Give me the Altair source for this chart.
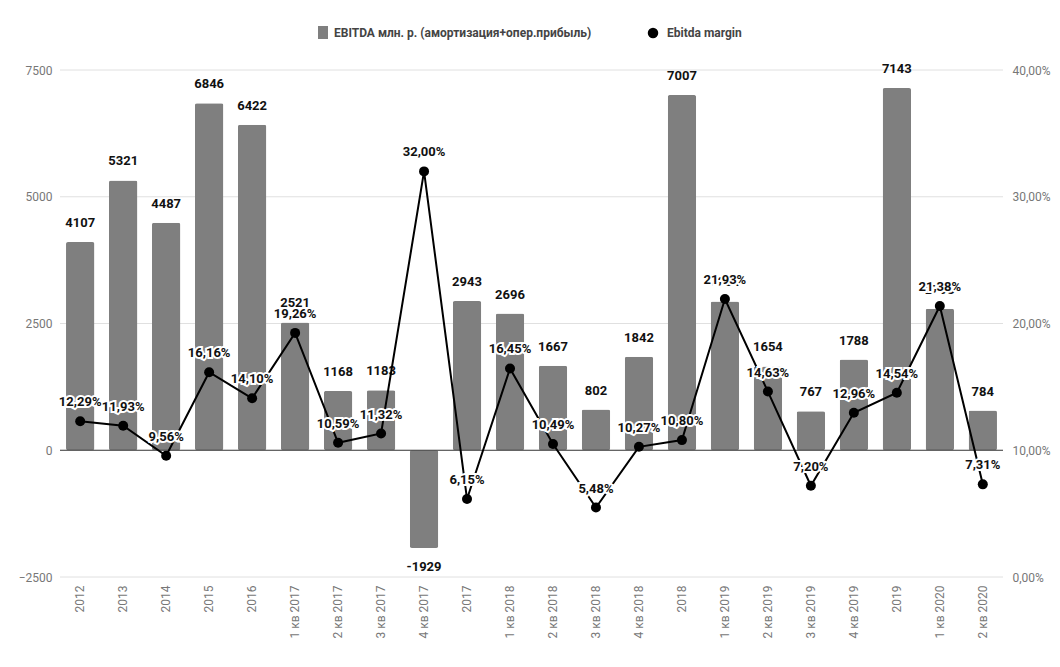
import altair as alt
import pandas as pd

categories = ["2012", "2013", "2014", "2015", "2016",
              "1 кв 2017", "2 кв 2017", "3 кв 2017", "4 кв 2017", "2017",
              "1 кв 2018", "2 кв 2018", "3 кв 2018", "4 кв 2018", "2018",
              "1 кв 2019", "2 кв 2019", "3 кв 2019", "4 кв 2019", "2019",
              "1 кв 2020", "2 кв 2020"]
ebitda = [4107, 5321, 4487, 6846, 6422,
          2521, 1168, 1183, -1929, 2943,
          2696, 1667, 802, 1842, 7007,
          2934, 1654, 767, 1788, 7143,
          2793, 784]
margin = [12.29, 11.93, 9.56, 16.16, 14.10,
          19.26, 10.59, 11.32, 32.00, 6.15,
          16.45, 10.49, 5.48, 10.27, 10.80,
          21.93, 14.63, 7.20, 12.96, 14.54,
          21.38, 7.31]
left_ticks = [-2500, 0, 2500, 5000, 7500]
right_ticks = [0, 10, 20, 30, 40]
legend_labels = ["EBITDA  млн. р. (амортизация+опер.прибыль)", "Ebitda margin"]

df = pd.DataFrame({"cat": categories, "ebitda": ebitda, "margin": margin})
df["elabel"] = [str(v) for v in ebitda]
df["mlabel"] = [f"{m:.2f}".replace(".", ",") + "%" for m in margin]
grid_df = pd.DataFrame({"g": [t for t in left_ticks if t != 0]})
zero_df = pd.DataFrame({"g": [0]})

FONT = "Roboto"
GRID = "#e0e0e0"
LABEL = "#777777"

x_enc = alt.X("cat:N", sort=categories, title=None,
              scale=alt.Scale(paddingInner=0.34, paddingOuter=0.14),
              axis=alt.Axis(labelAngle=-90, labelColor=LABEL, labelFontSize=12,
                            labelFont=FONT, labelPadding=8, domain=False, ticks=False,
                            grid=False))

left_scale = alt.Scale(domain=[-2500, 7500], nice=False, zero=False)
right_scale = alt.Scale(domain=[0, 40], nice=False, zero=False)

left_axis = alt.Axis(values=left_ticks, grid=False, format="d",
                     domain=False, ticks=False, labelColor=LABEL, labelFontSize=12,
                     labelFont=FONT, labelPadding=8, title=None)
right_axis = alt.Axis(values=right_ticks, grid=False, domain=False, ticks=False,
                      labelColor=LABEL, labelFontSize=12, labelFont=FONT, labelPadding=9,
                      title=None, orient="right",
                      labelExpr="replace(format(datum.value, '.2f'), '.', ',') + '%'")

yl = alt.Y("ebitda:Q", scale=left_scale, axis=left_axis)
yr = alt.Y("margin:Q", scale=right_scale, axis=right_axis)

base = alt.Chart(df)

gridlines = alt.Chart(grid_df).mark_rule(color=GRID, strokeWidth=1).encode(
    y=alt.Y("g:Q", scale=left_scale, axis=left_axis), x=alt.value(0), x2=alt.value(943))

bars = base.mark_bar(color="#7f7f7f", cornerRadius=2).encode(x=x_enc, y=yl)

zero_line = alt.Chart(zero_df).mark_rule(color="#333333", strokeWidth=1).encode(
    y=alt.Y("g:Q", scale=left_scale, axis=left_axis), x=alt.value(0), x2=alt.value(943))

pos_labels = base.transform_filter("datum.ebitda >= 0").mark_text(
    font=FONT, fontSize=13, fontWeight="bold", color="#111111", baseline="middle", dy=-19
).encode(x=x_enc, y=yl, text="elabel:N")

neg_labels = base.transform_filter("datum.ebitda < 0").mark_text(
    font=FONT, fontSize=13, fontWeight="bold", color="#111111", baseline="middle", dy=19
).encode(x=x_enc, y=yl, text="elabel:N")

left = alt.layer(gridlines, bars, zero_line, pos_labels, neg_labels)

line = base.mark_line(color="#000000", strokeWidth=2).encode(x=x_enc, y=yr)
points = base.mark_point(filled=True, color="#000000", size=100, opacity=1).encode(
    x=x_enc, y=yr)
halo = base.mark_text(font=FONT, fontSize=13, fontWeight="bold", stroke="white",
                      strokeWidth=4, color="white", baseline="middle", dy=-19).encode(
    x=x_enc, y=yr, text="mlabel:N")
mtext = base.mark_text(font=FONT, fontSize=13, fontWeight="bold", color="#111111",
                       baseline="middle", dy=-19).encode(
    x=x_enc, y=yr, text="mlabel:N")

right = alt.layer(line, points, halo, mtext)

# legend
leg_df = pd.DataFrame({"t": [0]})
leg = alt.Chart(leg_df)
leg_sq = leg.mark_rect(color="#7f7f7f").encode(
    x=alt.value(258), x2=alt.value(268), y=alt.value(-44), y2=alt.value(-31))
leg_t1 = leg.mark_text(font=FONT, fontSize=12, fontWeight="bold", color="#444444",
                       align="left", baseline="middle").encode(
    x=alt.value(274), y=alt.value(-37), text=alt.value(legend_labels[0]))
leg_ci = leg.mark_point(filled=True, color="#000000", size=110, opacity=1).encode(
    x=alt.value(593), y=alt.value(-37))
leg_t2 = leg.mark_text(font=FONT, fontSize=12, fontWeight="bold", color="#444444",
                       align="left", baseline="middle").encode(
    x=alt.value(607), y=alt.value(-37), text=alt.value(legend_labels[1]))
legend = alt.layer(leg_sq, leg_t1, leg_ci, leg_t2)

chart = alt.layer(left, right, legend).resolve_scale(y="independent").properties(
    width=943, height=507,
    background="white",
    padding={"left": 52, "top": 62, "right": 49, "bottom": 80},
    autosize=alt.AutoSizeParams(type="none"),
).configure_view(stroke=None)

chart.save("out.html", embed_options={"renderer": "svg", "actions": False})
